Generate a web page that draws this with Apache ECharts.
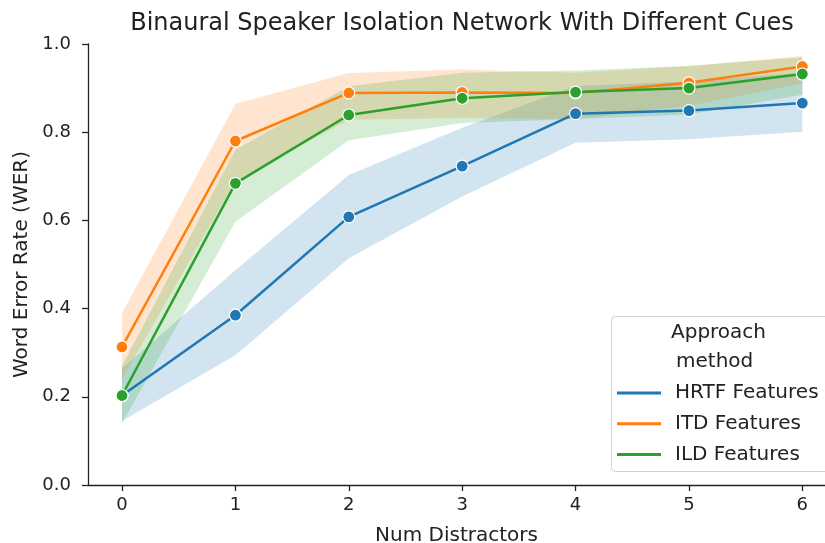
<!DOCTYPE html>
<html>
<head>
<meta charset="utf-8">
<script src="https://cdn.jsdelivr.net/npm/echarts@6/dist/echarts.min.js"></script>
<style>
  html, body { margin: 0; padding: 0; background: #fff; }
  #main { width: 825px; height: 543px; }
</style>
</head>
<body>
<div id="main"></div>
<script>
// x 值 (干扰者数量)
var distractors = [0, 1, 2, 3, 4, 5, 6];
var methods = ['HRTF Features', 'ITD Features', 'ILD Features'];
var colors = ['#1f77b4', '#ff7f0e', '#2ca02c'];

// 均值
var hrtfMean = [0.203, 0.385, 0.608, 0.723, 0.842, 0.849, 0.866];
var itdMean  = [0.313, 0.780, 0.889, 0.890, 0.889, 0.912, 0.949];
var ildMean  = [0.203, 0.684, 0.839, 0.877, 0.891, 0.900, 0.932];

// 置信区间
var hrtfLow  = [0.145, 0.294, 0.514, 0.654, 0.776, 0.784, 0.801];
var hrtfHigh = [0.265, 0.487, 0.703, 0.810, 0.905, 0.915, 0.935];
var itdLow   = [0.240, 0.690, 0.828, 0.832, 0.830, 0.860, 0.911];
var itdHigh  = [0.390, 0.864, 0.934, 0.942, 0.935, 0.950, 0.973];
var ildLow   = [0.140, 0.597, 0.782, 0.821, 0.830, 0.840, 0.885];
var ildHigh  = [0.270, 0.760, 0.904, 0.935, 0.940, 0.950, 0.970];

var yTicks = ['0.0', '0.2', '0.4', '0.6', '0.8', '1.0'];

var means = [hrtfMean, itdMean, ildMean];
var lows = [hrtfLow, itdLow, ildLow];
var highs = [hrtfHigh, itdHigh, ildHigh];

function pairs(ys){
    return distractors.map(function(x, i){ return [x, ys[i]]; });
}

function bandSeries(k){
    return {
        type: 'custom',
        name: methods[k] + ' band',
        silent: true,
        z: 1,
        data: [0],
        renderItem: function(params, api){
            var pts = [];
            for (var i = 0; i < distractors.length; i++) {
                pts.push(api.coord([distractors[i], highs[k][i]]));
            }
            for (var j = distractors.length - 1; j >= 0; j--) {
                pts.push(api.coord([distractors[j], lows[k][j]]));
            }
            return {
                type: 'polygon',
                shape: { points: pts },
                style: { fill: colors[k], opacity: 0.2 }
            };
        }
    };
}

function lineSeries(k){
    return {
        type: 'line',
        name: methods[k],
        data: pairs(means[k]),
        z: 3 + k,
        symbol: 'circle',
        symbolSize: 12,
        showAllSymbol: true,
        lineStyle: { color: colors[k], width: 2.5 },
        itemStyle: { color: colors[k], borderColor: '#fff', borderWidth: 1.2 },
        emphasis: { disabled: true },
        animation: false
    };
}

var series = [bandSeries(0), bandSeries(1), bandSeries(2),
              lineSeries(0), lineSeries(1), lineSeries(2)];

var legendData = methods.map(function(m, k){
    return { name: m, itemStyle: { color: colors[k], borderWidth: 0 } };
});

var chart = echarts.init(document.getElementById('main'));
var font = 'DejaVu Sans';
var option = {
    animation: false,
    textStyle: { fontFamily: font },
    title: {
        text: 'Binaural Speaker Isolation Network With Different Cues',
        left: 457, top: 7, textAlign: 'center',
        textStyle: { fontFamily: font, fontSize: 24, fontWeight: 'normal', color: '#222' }
    },
    grid: { left: 88, top: 44, width: 737, height: 441, outerBoundsMode: 'none', containLabel: false },
    xAxis: {
        type: 'value',
        min: -0.3, max: 6.2,
        name: 'Num Distractors',
        nameLocation: 'middle',
        nameGap: 41,
        nameTextStyle: { fontFamily: font, fontSize: 20, color: '#222' },
        axisLine: { show: true, onZero: false, lineStyle: { color: '#222', width: 1.3 } },
        axisTick: { show: true, length: 6, customValues: distractors, lineStyle: { color: '#222', width: 1.3 } },
        axisLabel: {
            color: '#222', fontSize: 18, margin: 11,
            customValues: distractors,
            formatter: function(v){ return String(v); }
        },
        splitLine: { show: false }
    },
    yAxis: {
        type: 'value',
        min: 0, max: 1, interval: 0.2,
        name: 'Word Error Rate (WER)',
        nameLocation: 'middle',
        nameGap: 56,
        nameTextStyle: { fontFamily: font, fontSize: 20, color: '#222' },
        axisLine: { show: true, onZero: false, lineStyle: { color: '#222', width: 1.3 } },
        axisTick: { show: true, length: 6, lineStyle: { color: '#222', width: 1.3 } },
        axisLabel: {
            color: '#222', fontSize: 18, margin: 17,
            formatter: function(v){ return yTicks[Math.round(v * 5)]; }
        },
        splitLine: { show: false }
    },
    legend: {
        data: legendData,
        orient: 'vertical',
        left: 612, top: 378,
        z: 20,
        itemGap: 10.7,
        itemWidth: 44, itemHeight: 3,
        icon: 'rect',
        itemStyle: { borderWidth: 0 },
        textStyle: { fontFamily: font, fontSize: 20, color: '#222', padding: [0, 0, 0, 9] },
        selectedMode: false
    },
    graphic: [
        {
            type: 'rect', left: 611, top: 316,
            shape: { width: 230, height: 155, r: 4 },
            style: { fill: 'rgba(255,255,255,0.8)', stroke: '#d0d0d0', lineWidth: 1 },
            z: 10
        },
        {
            type: 'text', x: 671, y: 333, z: 11,
            style: { text: 'Approach', font: '20px "DejaVu Sans"', fill: '#222', verticalAlign: 'middle' }
        },
        {
            type: 'text', x: 676, y: 362, z: 11,
            style: { text: 'method', font: '20px "DejaVu Sans"', fill: '#222', verticalAlign: 'middle' }
        }
    ],
    series: series
};
chart.setOption(option);
</script>
</body>
</html>
